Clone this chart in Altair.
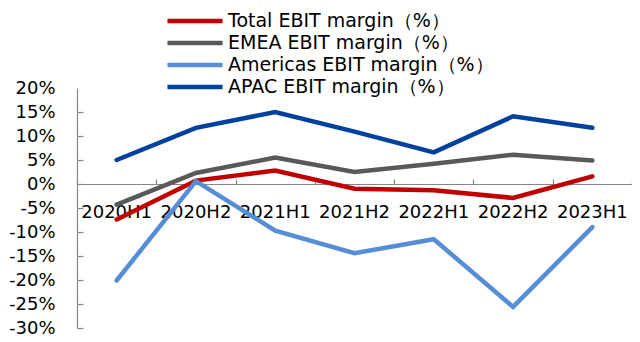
import altair as alt
import pandas as pd

periods = ["2020H1", "2020H2", "2021H1", "2021H2", "2022H1", "2022H2", "2023H1"]
series_names = [
    "Total EBIT margin（%）",
    "EMEA EBIT margin（%）",
    "Americas EBIT margin（%）",
    "APAC EBIT margin（%）",
]
total = [-7.4, 0.7, 2.8, -1.0, -1.3, -2.9, 1.6]
emea = [-4.3, 2.3, 5.5, 2.5, 4.2, 6.1, 4.9]
americas = [-20.1, 0.6, -9.7, -14.4, -11.5, -25.6, -9.0]
apac = [5.0, 11.7, 15.0, 10.9, 6.6, 14.1, 11.7]
colors = ["#C00000", "#595959", "#558ED5", "#0041A0"]
y_ticks = list(range(-30, 21, 5))
y_min, y_max = -30, 20

W, H = 555, 240
FONT = "DejaVu Sans"
AXIS_GREY = "#868686"

rows = []
for name, vals in zip(series_names, [total, emea, americas, apac]):
    for p, v in zip(periods, vals):
        rows.append({"period": p, "series": name, "value": v})
df = pd.DataFrame(rows)

x_scale = alt.Scale(type="band", paddingInner=0, paddingOuter=0)
y_scale = alt.Scale(domain=[y_min, y_max], nice=False, zero=False)
zero_from_bottom = (0 - y_min) / (y_max - y_min) * H
zero_from_top = (y_max - 0) / (y_max - y_min) * H

lines = alt.Chart(df).mark_line(strokeWidth=4.5, strokeCap="round").encode(
    x=alt.X(
        "period:N", sort=periods, scale=x_scale, bandPosition=0.5, title=None,
        axis=alt.Axis(orient="bottom", offset=-zero_from_bottom, domain=False,
                      ticks=False, tickSize=0, labelPadding=19, labelAngle=0,
                      labelFontSize=18, labelFont=FONT, labelColor="black",
                      labelOverlap=False, labelFlush=False, grid=False),
    ),
    y=alt.Y(
        "value:Q", scale=y_scale, title=None,
        axis=alt.Axis(orient="left", values=y_ticks, labelExpr="datum.value + '%'",
                      domain=True, domainColor=AXIS_GREY, domainWidth=1.2,
                      ticks=False, tickSize=0, labelPadding=22,
                      labelFontSize=18, labelFont=FONT, labelColor="black",
                      labelOverlap=False, labelFlush=False, grid=False),
    ),
    color=alt.Color(
        "series:N", sort=series_names,
        scale=alt.Scale(domain=series_names, range=colors),
        legend=alt.Legend(orient="none", legendX=106, legendY=-79, title=None,
                          symbolType="M-2.9,0H2.9", symbolSize=361, symbolStrokeWidth=4.5,
                          labelFontSize=19, labelFont=FONT, labelColor="black",
                          labelOffset=21, labelLimit=0, padding=0, rowPadding=0),
    ),
    order=alt.Order("series:N"),
)

axes_ticks = alt.Chart(df).mark_line(opacity=0).encode(
    x=alt.X(
        "period:N", sort=periods, scale=x_scale, bandPosition=0.5, title=None,
        axis=alt.Axis(orient="top", offset=-zero_from_top, domain=True,
                      domainColor=AXIS_GREY, domainWidth=1.2, ticks=True, tickSize=5,
                      tickColor=AXIS_GREY, tickWidth=1.2, tickBand="extent",
                      labels=False, grid=False),
    ),
    y=alt.Y(
        "value:Q", scale=y_scale, title=None,
        axis=alt.Axis(orient="right", offset=-W, values=y_ticks[:-1], domain=False,
                      ticks=True, tickSize=6, tickColor=AXIS_GREY, tickWidth=1.2,
                      labels=False, grid=False),
    ),
    detail="series:N",
)

chart = alt.layer(lines, axes_ticks).resolve_axis(x="independent", y="independent").properties(
    width=W, height=H,
    autosize=alt.AutoSizeParams(type="none"),
    padding={"left": 69, "top": 80, "right": 0, "bottom": 14},
    background="white",
).configure_view(stroke=None)

chart.save("out.html", embed_options={"renderer": "svg", "actions": False})
